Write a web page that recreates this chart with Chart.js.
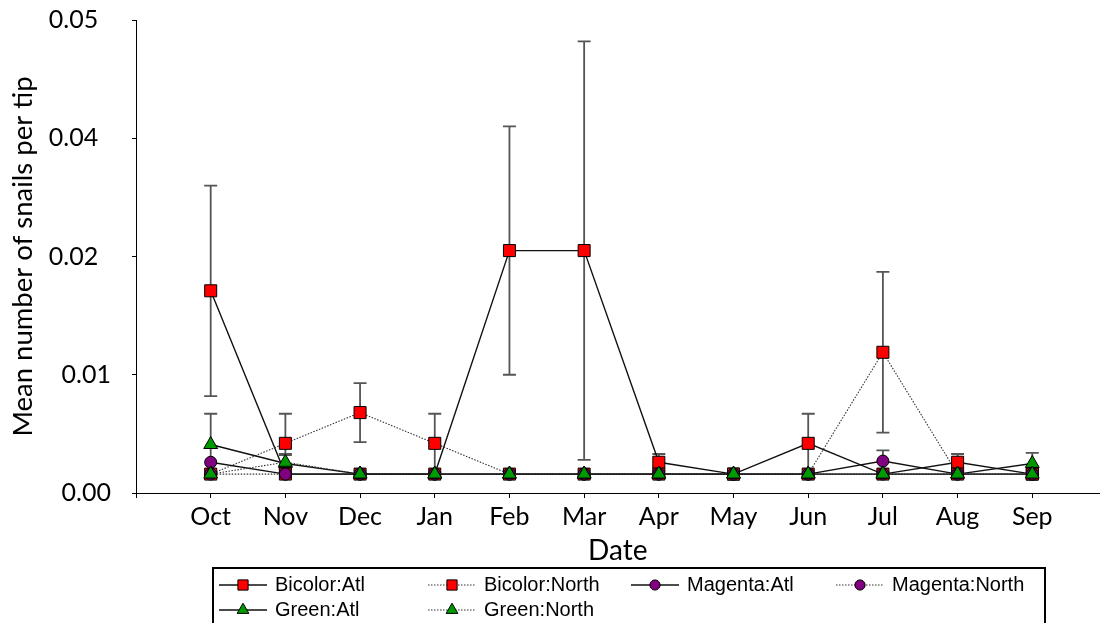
<!DOCTYPE html>
<html>
<head>
<meta charset="utf-8">
<script src="https://cdn.jsdelivr.net/npm/chart.js@4.4.1/dist/chart.umd.min.js"></script>
<style>
  html, body { margin: 0; padding: 0; background: #fff; }
  #wrap { width: 1109px; height: 623px; }
</style>
</head>
<body>
<div id="wrap"><canvas id="snailChart" width="1109" height="623"></canvas></div>
<script>
const months = ['Oct', 'Nov', 'Dec', 'Jan', 'Feb', 'Mar', 'Apr', 'May', 'Jun', 'Jul', 'Aug', 'Sep'];
// trailing spaces nudge the upper labels left
const yTickLabels = ['0.00', '0.01', '0.02  ', '0.04  ', '0.05  '];

const bicolorAtl     = [0.0171, 0.0016, 0.0016, 0.0016, 0.0205, 0.0205, 0.0026, 0.0016, 0.0042, 0.0016, 0.0026, 0.0016];
const bicolorAtlSE   = [0.0089, 0, 0, 0, 0.0105, 0.0177, 0.0007, 0, 0.0025, 0, 0.0007, 0];
const bicolorNorth   = [0.0016, 0.0042, 0.0068, 0.0042, 0.0016, 0.0016, 0.0016, 0.0016, 0.0016, 0.0119, 0.0016, 0.0016];
const bicolorNorthSE = [0, 0.0025, 0.0025, 0.0025, 0, 0, 0, 0, 0, 0.0068, 0, 0];
const magentaAtl     = [0.0026, 0.0016, 0.0016, 0.0016, 0.0016, 0.0016, 0.0016, 0.0016, 0.0016, 0.0027, 0.0016, 0.0016];
const magentaAtlSE   = [0, 0, 0, 0, 0, 0, 0, 0, 0, 0.0009, 0, 0];
const magentaNorth   = [0.0016, 0.0016, 0.0016, 0.0016, 0.0016, 0.0016, 0.0016, 0.0016, 0.0016, 0.0016, 0.0016, 0.0016];
const magentaNorthSE = [0, 0, 0, 0, 0, 0, 0, 0, 0, 0, 0, 0];
const greenAtl       = [0.0041, 0.0025, 0.0016, 0.0016, 0.0016, 0.0016, 0.0016, 0.0016, 0.0016, 0.0016, 0.0016, 0.0025];
const greenAtlSE     = [0.0026, 0.0008, 0, 0, 0, 0, 0, 0, 0, 0, 0, 0.0009];
const greenNorth     = [0.0016, 0.0026, 0.0016, 0.0016, 0.0016, 0.0016, 0.0016, 0.0016, 0.0016, 0.0016, 0.0016, 0.0016];
const greenNorthSE   = [0, 0.0006, 0, 0, 0, 0, 0, 0, 0, 0, 0, 0];

const RED = '#ff0000', PURPLE = '#800080', GREEN = '#009a00';
const SOLID = { color: '#111', width: 1.4, dash: [] };
const DOTTED = { color: '#333', width: 1.1, dash: [1.5, 1.5] };

function series(label, values, se, line, style, fill, radius, order) {
  return {
    label: label,
    data: values.map((v, i) => ({ x: i, y: v })),
    se: se,
    borderColor: line.color,
    borderWidth: line.width,
    borderDash: line.dash,
    pointStyle: style,
    pointRadius: radius,
    pointHoverRadius: radius,
    pointBackgroundColor: fill,
    pointBorderColor: '#000',
    pointBorderWidth: 1,
    tension: 0,
    fill: false,
    order: order
  };
}

const datasets = [
  series('Bicolor:Atl',   bicolorAtl,   bicolorAtlSE,   SOLID,  'rect',     RED,    8.5, 6),
  series('Bicolor:North', bicolorNorth, bicolorNorthSE, DOTTED, 'rect',     RED,    8.5, 5),
  series('Magenta:Atl',   magentaAtl,   magentaAtlSE,   SOLID,  'circle',   PURPLE, 6,   4),
  series('Magenta:North', magentaNorth, magentaNorthSE, DOTTED, 'circle',   PURPLE, 6,   3),
  series('Green:Atl',     greenAtl,     greenAtlSE,     SOLID,  'triangle', GREEN,  8,   2),
  series('Green:North',   greenNorth,   greenNorthSE,   DOTTED, 'triangle', GREEN,  8,   1)
];

// vertical error bars with caps, drawn beneath the markers
const errorBars = {
  id: 'errorBars',
  beforeDatasetsDraw(chart) {
    const { ctx, scales: { x, y } } = chart;
    ctx.save();
    ctx.strokeStyle = '#555';
    ctx.lineWidth = 1.8;
    chart.data.datasets.forEach(ds => {
      ds.data.forEach((p, i) => {
        const e = ds.se[i];
        if (!e) return;
        const px = x.getPixelForValue(p.x);
        const top = y.getPixelForValue(p.y + e);
        const bot = y.getPixelForValue(Math.max(p.y - e, 0));
        ctx.beginPath();
        ctx.moveTo(px, top); ctx.lineTo(px, bot);
        ctx.moveTo(px - 6.5, top); ctx.lineTo(px + 6.5, top);
        ctx.moveTo(px - 6.5, bot); ctx.lineTo(px + 6.5, bot);
        ctx.stroke();
      });
    });
    ctx.restore();
  }
};

function drawMarker(ctx, style, cx, cy, r, fill) {
  ctx.beginPath();
  if (style === 'rect') {
    const s = r * Math.SQRT1_2;
    ctx.rect(cx - s, cy - s, 2 * s, 2 * s);
  } else if (style === 'circle') {
    ctx.arc(cx, cy, r, 0, Math.PI * 2);
  } else {
    ctx.moveTo(cx, cy - r);
    ctx.lineTo(cx + r * 0.866, cy + r * 0.5);
    ctx.lineTo(cx - r * 0.866, cy + r * 0.5);
    ctx.closePath();
  }
  ctx.fillStyle = fill;
  ctx.fill();
  ctx.lineWidth = 1;
  ctx.strokeStyle = '#000';
  ctx.stroke();
}

// boxed legend, four columns, below the axis
const boxLegend = {
  id: 'boxLegend',
  afterDraw(chart) {
    const ctx = chart.ctx;
    const cols = [243, 452, 655, 860];
    const rows = [585, 610];
    ctx.save();
    ctx.lineWidth = 2;
    ctx.strokeStyle = '#000';
    ctx.strokeRect(213, 568, 832, 80);
    ctx.font = '20px "Liberation Sans Narrow", "Liberation Sans", sans-serif';
    ctx.textBaseline = 'middle';
    ctx.textAlign = 'left';
    chart.data.datasets.forEach((ds, i) => {
      const cx = cols[i % 4], cy = rows[Math.floor(i / 4)];
      ctx.beginPath();
      ctx.setLineDash(ds.borderDash);
      ctx.strokeStyle = ds.borderColor;
      ctx.lineWidth = ds.borderWidth;
      ctx.moveTo(cx - 24, cy); ctx.lineTo(cx + 24, cy);
      ctx.stroke();
      ctx.setLineDash([]);
      drawMarker(ctx, ds.pointStyle, cx, cy, ds.pointRadius * 0.85, ds.pointBackgroundColor);
      ctx.fillStyle = '#000';
      ctx.fillText(ds.label, cx + 32, cy);
    });
    ctx.restore();
  }
};

const axisFont = { family: 'Lato, "Liberation Sans", sans-serif', size: 25 };

new Chart(document.getElementById('snailChart'), {
  type: 'line',
  data: { datasets: datasets },
  plugins: [errorBars, boxLegend],
  options: {
    responsive: false,
    animation: false,
    layout: { padding: { top: 20, left: 0, right: 0, bottom: 0 } },
    plugins: {
      legend: { display: false },
      tooltip: { enabled: false }
    },
    scales: {
      x: {
        type: 'linear',
        min: -1,
        max: 11.9,
        afterBuildTicks: scale => {
          scale.ticks = [-1].concat(months.map((m, i) => i)).map(v => ({ value: v }));
        },
        afterFit: scale => { scale.height = 130; },
        ticks: {
          color: '#000',
          font: axisFont,
          padding: 4,
          maxRotation: 0,
          autoSkip: false,
          callback: v => (v >= 0 ? months[v] : '')
        },
        grid: { drawOnChartArea: false, color: '#000', tickLength: 5 },
        border: { color: '#000', width: 1 },
        title: {
          display: true,
          text: 'Date',
          color: '#000',
          font: { family: axisFont.family, size: 28 },
          padding: { top: 0, bottom: 55 }
        }
      },
      y: {
        min: 0,
        max: 0.04,
        afterBuildTicks: scale => {
          scale.ticks = yTickLabels.map((t, i) => ({ value: i * 0.01 }));
        },
        afterFit: scale => {
          scale.width = 136;
          scale.paddingTop = 0;
          scale.paddingBottom = 0;
        },
        ticks: {
          color: '#000',
          font: axisFont,
          padding: 21,
          callback: (v, i) => yTickLabels[i]
        },
        grid: { drawOnChartArea: false, color: '#000', tickLength: 4 },
        border: { color: '#000', width: 1 },
        title: {
          display: true,
          text: 'Mean number of snails per tip',
          color: '#000',
          font: { family: axisFont.family, size: 27.5 },
          padding: { top: 7, bottom: 0 }
        }
      }
    }
  }
});
</script>
</body>
</html>
